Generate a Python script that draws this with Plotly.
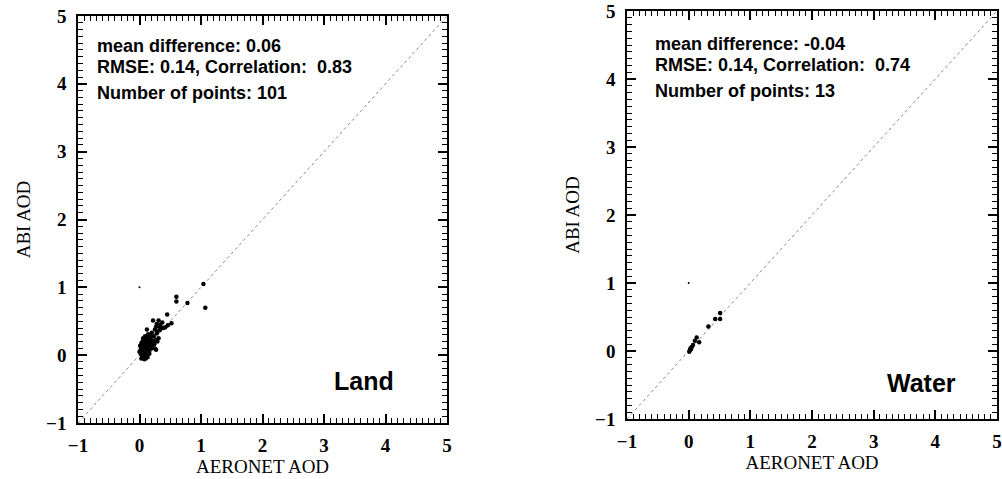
import plotly.graph_objects as go

# ---- data ----
land_x = [1.04, 0.60, 0.60, 0.78, 1.07, 0.45, 0.22, 0.31, 0.52, 0.46, 0.32, 0.36, 0.33, 0.29, 0.28,
          0.12, 0.14, 0.39, 0.42, 0.31, 0.29, 0.27, 0.05,
          0.05, 0.07, 0.10, 0.12, 0.15, 0.17, 0.20, 0.22, 0.18, 0.15, 0.12, 0.08, 0.05, 0.03, 0.04,
          0.06, 0.08, 0.10, 0.12, 0.14, 0.16, 0.02, 0.04, 0.06, 0.09, 0.11, 0.07, 0.03, 0.08, 0.13,
          0.05, 0.10, 0.19, 0.21, 0.24, 0.26, 0.23, 0.18, 0.09, 0.02, 0.01, 0.00, 0.11, 0.14, 0.17,
          0.20, 0.25, 0.27, 0.34, 0.37, 0.28, 0.16, 0.10, 0.03, 0.06, 0.25]
land_y = [1.05, 0.86, 0.79, 0.77, 0.70, 0.60, 0.51, 0.51, 0.47, 0.44, 0.43, 0.40, 0.37, 0.35, 0.32,
          0.38, 0.31, 0.40, 0.41, 0.25, 0.20, 0.08, -0.02,
          0.20, 0.22, 0.24, 0.22, 0.26, 0.20, 0.22, 0.18, 0.15, 0.12, 0.15, 0.13, 0.10, 0.12, 0.06,
          0.04, 0.08, 0.05, 0.08, 0.10, 0.06, 0.02, 0.00, -0.03, -0.02, 0.01, 0.01, -0.05, -0.06, -0.03,
          0.15, 0.18, 0.10, 0.13, 0.16, 0.22, 0.28, 0.30, 0.28, 0.08, 0.14, 0.05, 0.11, 0.18, 0.25,
          0.33, 0.38, 0.42, 0.45, 0.48, 0.46, 0.02, -0.05, 0.18, 0.25, 0.10]

water_x = [0.51, 0.51, 0.43, 0.32, 0.13, 0.17, 0.10, 0.05, 0.02, 0.04, 0.07, 0.01, 0.03]
water_y = [0.56, 0.47, 0.47, 0.36, 0.20, 0.13, 0.15, 0.06, 0.01, 0.03, 0.09, -0.01, 0.04]

ref_x = [0.0]
ref_y = [1.0]
one_to_one = [-1, 5]

land_stats = ["mean difference: 0.06", "RMSE: 0.14, Correlation:  0.83", "Number of points: 101"]
water_stats = ["mean difference: -0.04", "RMSE: 0.14, Correlation:  0.74", "Number of points: 13"]

W, H = 1002, 479
def px(x): return x / W
def py(y): return 1 - y / H

fig = go.Figure()

for i, (xs, ys) in enumerate([(land_x, land_y), (water_x, water_y)]):
    xa = "x" if i == 0 else "x2"
    ya = "y" if i == 0 else "y2"
    fig.add_trace(go.Scatter(x=one_to_one, y=one_to_one, mode="lines", xaxis=xa, yaxis=ya,
                             line=dict(color="#8a8a8a", width=1, dash="dot"), hoverinfo="skip"))
    fig.add_trace(go.Scatter(x=xs, y=ys, mode="markers", xaxis=xa, yaxis=ya,
                             marker=dict(color="black", size=4.5, line=dict(width=0))))
    fig.add_trace(go.Scatter(x=ref_x, y=ref_y, mode="markers", xaxis=xa, yaxis=ya,
                             marker=dict(color="black", size=2, line=dict(width=0))))

tickfont = dict(family="Liberation Serif", size=19, color="black", weight="bold")
titlefont = dict(family="Liberation Serif", size=19, color="black")

def axis(domain, anchor, title, lab_off, tit_off):
    return dict(domain=domain, anchor=anchor, range=[-1, 5],
                tickmode="linear", tick0=-1, dtick=1,
                ticks="inside", ticklen=9, tickwidth=1.5, tickcolor="#000000",
                minor=dict(ticks="inside", ticklen=5, tick0=-1, dtick=0.1, tickwidth=1, tickcolor="#000000",
                           showgrid=False),
                showline=True, linecolor="black", linewidth=1.5, mirror="allticks",
                showgrid=False, zeroline=False, tickfont=tickfont, ticklabelstandoff=lab_off,
                title=dict(text=title, font=titlefont, standoff=tit_off))

fig.update_layout(
    template="none",
    width=W, height=H, margin=dict(l=0, r=0, t=0, b=0),
    paper_bgcolor="white", plot_bgcolor="white", showlegend=False,
    xaxis=axis([px(78), px(447)], "y", "AERONET AOD", 4, 3),
    yaxis=axis([py(423), py(16)], "x", "ABI AOD", 6, 10),
    xaxis2=axis([px(627), px(997)], "y2", "AERONET AOD", 4, 3),
    yaxis2=axis([py(419), py(11)], "x2", "ABI AOD", 6, 10),
)

ann = []
for xs0, ylist, lines in [(95, [46, 67, 93], land_stats), (653, [44, 65, 91], water_stats)]:
    for yy, t in zip(ylist, lines):
        ann.append(dict(x=px(xs0), y=py(yy), xref="paper", yref="paper", text="<b>%s</b>" % t,
                        showarrow=False, xanchor="left", yanchor="middle",
                        font=dict(family="Liberation Sans", size=18, color="black")))
ann.append(dict(x=px(332), y=py(381), xref="paper", yref="paper", text="<b>Land</b>", showarrow=False,
                xanchor="left", yanchor="middle", font=dict(family="Liberation Sans", size=25, color="black")))
ann.append(dict(x=px(885), y=py(383), xref="paper", yref="paper", text="<b>Water</b>", showarrow=False,
                xanchor="left", yanchor="middle", font=dict(family="Liberation Sans", size=25, color="black")))
fig.update_layout(annotations=ann)

fig.write_html("out.html")
